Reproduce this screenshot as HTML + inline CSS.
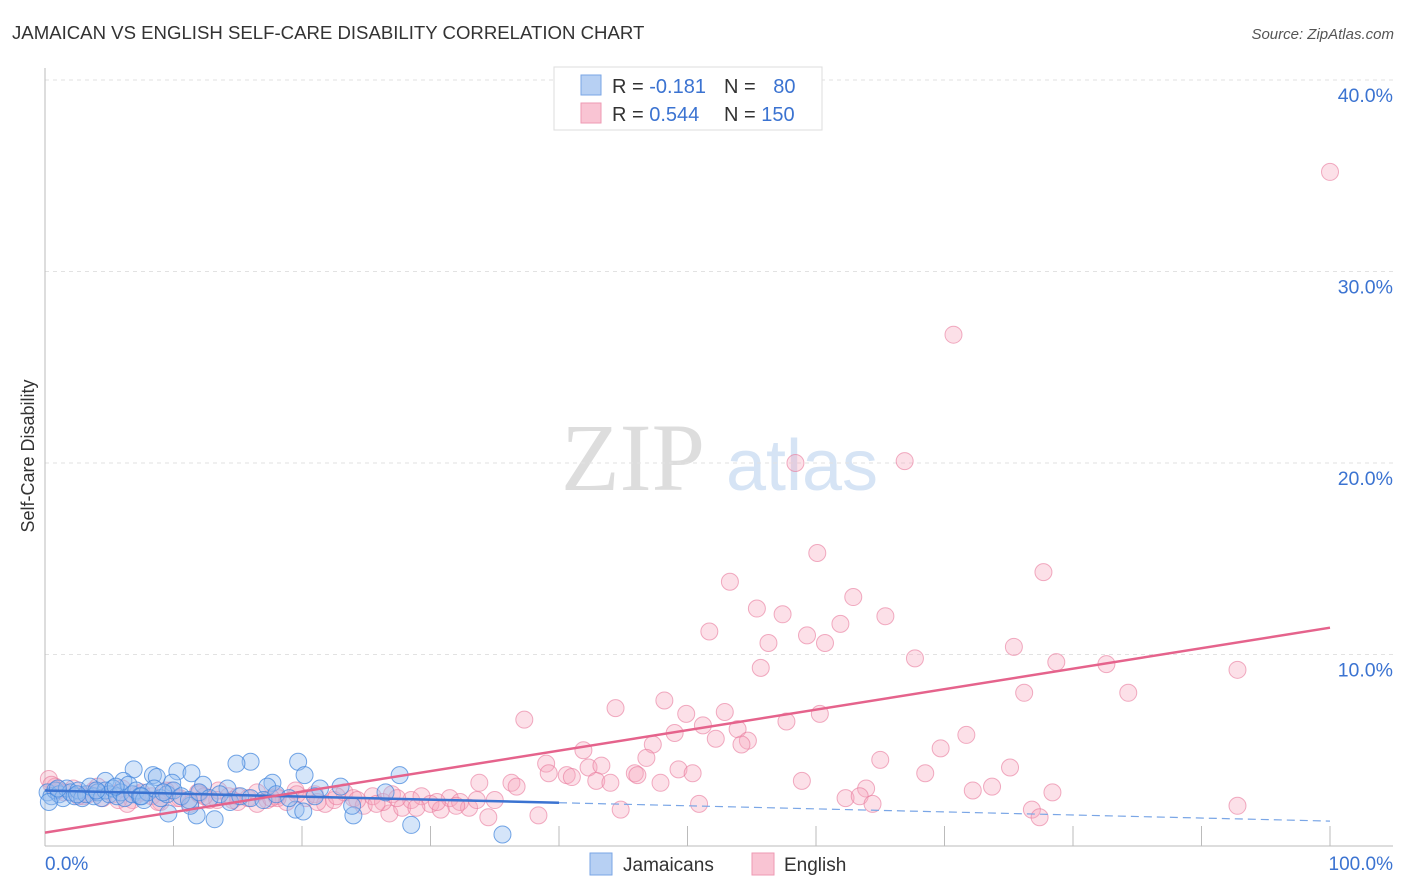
<!DOCTYPE html>
<html><head><meta charset="utf-8"><style>
body{margin:0;background:#fff;font-family:"Liberation Sans",sans-serif;}
#wrap{position:relative;width:1406px;height:892px;overflow:hidden}
</style></head><body>
<div id="wrap">
<svg id="svg" width="1406" height="892" xmlns="http://www.w3.org/2000/svg">
<text x="12" y="39" font-size="18.6" fill="#333">JAMAICAN VS ENGLISH SELF-CARE DISABILITY CORRELATION CHART</text>
<text x="1394" y="39" font-size="15" fill="#555" font-style="italic" text-anchor="end">Source: ZipAtlas.com</text>
<text x="633" y="490" font-size="96" fill="#ddd" font-family="Liberation Serif,serif" text-anchor="middle">ZIP</text>
<text x="802" y="490" font-size="72" fill="#d6e4f5" text-anchor="middle">atlas</text>
<text transform="translate(34,456) rotate(-90)" font-size="18" fill="#333" text-anchor="middle">Self-Care Disability</text>
<g id="grid"></g><g id="pts"></g><g id="lines"></g>
<g>
<rect x="554" y="67" width="268" height="63" fill="#fff" stroke="#ddd"/>
<rect x="581" y="75" width="20" height="20" fill="#b7d0f3" stroke="#7aa6e6"/>
<rect x="581" y="103" width="20" height="20" fill="#f9c4d3" stroke="#ee9ab3"/>
<text x="612" y="93" font-size="20" fill="#333">R = <tspan fill="#3b73d1">-0.181</tspan></text>
<text x="724" y="93" font-size="20" fill="#333">N = <tspan fill="#3b73d1" dx="12">80</tspan></text>
<text x="612" y="121" font-size="20" fill="#333">R = <tspan fill="#3b73d1">0.544</tspan></text>
<text x="724" y="121" font-size="20" fill="#333">N = <tspan fill="#3b73d1">150</tspan></text>
</g>
<g>
<rect x="590" y="853" width="22" height="22" fill="#b7d0f3" stroke="#7aa6e6"/>
<text x="623" y="871" font-size="19" fill="#333">Jamaicans</text>
<rect x="752" y="853" width="22" height="22" fill="#f9c4d3" stroke="#ee9ab3"/>
<text x="784" y="871" font-size="19" fill="#333">English</text>
</g>
</svg>
</div>
<script>
const yTicks=[10,20,30,40];
const yTickLabels=["10.0%","20.0%","30.0%","40.0%"];
const xTickLabels=["0.0%","100.0%"];
const englishX=[100,70.7,58.4,66.9,60.1,77.7,53.3,62.9,55.4,57.4,65.4,61.9,51.7,59.3,56.3,60.7,75.4,67.7,78.7,82.6,92.8,55.7,76.2,84.3,48.2,37.3,44.4,49.9,52.9,60.3,51.2,57.7,53.9,52.2,49.0,71.7,54.7,54.2,47.3,65.0,69.7,41.9,46.8,39.0,42.3,43.3,75.1,68.5,49.3,50.4,45.9,46.1,40.6,41.0,39.2,36.3,33.8,36.7,42.9,44.0,47.9,58.9,63.9,73.7,72.2,78.4,62.3,63.4,50.9,64.4,76.8,77.4,92.8,44.8,34.5,38.4,26.8,
0.3,0.8,1.5,2.2,3.0,3.8,4.5,5.3,6.0,6.8,7.5,8.3,9.0,9.8,10.5,11.3,12.0,12.8,13.5,14.3,15.0,15.8,16.5,17.3,18.0,18.8,19.5,20.3,21.0,21.8,22.5,23.3,24.0,24.8,25.5,26.3,27.0,27.8,28.5,29.3,30.0,30.8,31.5,32.3,33.0,35.0,1.0,2.6,4.1,5.7,7.2,8.8,10.3,11.9,13.4,15.0,16.5,18.1,19.6,21.2,22.7,24.3,25.8,27.4,28.9,30.5,32.0,33.6,0.5,3.4,6.4,9.4,12.4,14.6,17.6];
const englishY=[35.2,26.7,20.0,20.1,15.3,14.3,13.8,13.0,12.4,12.1,12.0,11.6,11.2,11.0,10.6,10.6,10.4,9.8,9.6,9.5,9.2,9.3,8.0,8.0,7.6,6.6,7.2,6.9,7.0,6.9,6.3,6.5,6.1,5.6,5.9,5.8,5.5,5.3,5.3,4.5,5.1,5.0,4.6,4.3,4.1,4.2,4.1,3.8,4.0,3.8,3.8,3.7,3.7,3.6,3.8,3.3,3.3,3.1,3.4,3.3,3.3,3.4,3.0,3.1,2.9,2.8,2.5,2.6,2.2,2.2,1.9,1.5,2.1,1.9,1.5,1.6,1.7,
3.5,3.1,2.8,3.0,2.6,2.9,2.5,2.7,3.0,2.4,2.8,2.6,2.3,2.9,2.5,2.2,2.7,2.4,2.9,2.6,2.3,2.5,2.8,2.4,2.6,2.3,2.9,2.5,2.7,2.2,2.4,2.8,2.5,2.1,2.6,2.3,2.7,2.0,2.4,2.6,2.2,1.9,2.5,2.3,2.0,2.4,2.9,2.6,3.1,2.4,2.7,2.3,2.5,2.8,2.4,2.6,2.2,2.5,2.7,2.3,2.6,2.4,2.2,2.5,2.0,2.3,2.1,2.4,3.2,2.7,2.2,2.9,2.6,2.4,2.5];
const jamX=[16.0,14.9,19.7,6.9,10.3,11.4,20.2,27.6,8.4,8.7,4.7,6.1,9.9,12.3,17.7,17.3,14.2,21.4,23.0,26.5,9.6,11.8,13.2,19.5,20.1,24.0,28.5,35.6,23.9,11.3,
0.2,0.5,0.8,1.1,1.4,1.7,2.0,2.3,2.6,2.9,3.2,3.5,3.8,4.1,4.4,4.7,5.0,5.3,5.6,5.9,6.2,6.5,6.8,7.1,7.4,7.7,8.0,8.5,9.0,9.5,10.0,10.6,11.2,12.0,12.8,13.6,14.4,15.2,16.0,17.0,18.0,19.0,21.0,0.3,1.0,2.5,4.0,5.5,7.5,9.2];
const jamY=[4.4,4.3,4.4,4.0,3.9,3.8,3.7,3.7,3.7,3.6,3.4,3.4,3.3,3.2,3.3,3.1,3.0,3.0,3.1,2.8,1.7,1.6,1.4,1.9,1.8,1.6,1.1,0.6,2.1,2.1,
2.8,2.6,2.9,2.7,2.5,3.0,2.8,2.6,2.9,2.5,2.7,3.1,2.6,2.8,2.5,2.9,2.7,3.0,2.6,2.8,2.5,3.2,2.7,2.9,2.6,2.4,2.8,3.0,2.5,2.7,2.9,2.6,2.4,2.8,2.5,2.7,2.3,2.6,2.5,2.4,2.7,2.5,2.6,2.3,3.0,2.7,2.9,3.1,2.6,2.8];
const engLine=[0.7,11.4], jamLine=[2.9,1.3];
const X=v=>45+v*12.85, Y=v=>846-v*19.15;
const NS="http://www.w3.org/2000/svg";
function mk(t,a,p){const e=document.createElementNS(NS,t);for(const k in a)e.setAttribute(k,a[k]);p.appendChild(e);return e;}
const grid=document.getElementById('grid'),pts=document.getElementById('pts'),lines=document.getElementById('lines');
yTicks.forEach((t,i)=>{
 const l=mk('line',{x1:45,x2:1393,y1:Y(t),y2:Y(t),stroke:'#e2e2e2','stroke-dasharray':'4,4'},grid);
 
 
 const tx=mk('text',{x:1393,y:Y(t)+22,'font-size':19.5,fill:'#3b73d1','text-anchor':'end'},grid);
 tx.textContent=yTickLabels[i];
 
 
});
let ax=mk('line',{x1:45,x2:45,y1:68,y2:846,stroke:'#bbb'},grid);


ax=mk('line',{x1:45,x2:1393,y1:846,y2:846,stroke:'#bbb'},grid);


for(let i=1;i<=10;i++){const t=mk('line',{x1:X(i*10),x2:X(i*10),y1:826,y2:846,stroke:'#bbb'},grid);
 
 }
[[0,'start',45],[100,'end',1393]].forEach((d,i)=>{const t=mk('text',{x:d[2],y:870,'font-size':19,fill:'#3b73d1','text-anchor':d[1]},grid);t.textContent=xTickLabels[i];
 
 });
englishX.forEach((x,i)=>{const c=mk('circle',{cx:X(x),cy:Y(englishY[i]),r:8.5,fill:'rgba(246,166,190,0.35)',stroke:'rgba(232,120,155,0.6)','stroke-width':1},pts);
 
 });
jamX.forEach((x,i)=>{const c=mk('circle',{cx:X(x),cy:Y(jamY[i]),r:8.5,fill:'rgba(150,190,240,0.4)',stroke:'rgba(60,130,220,0.7)','stroke-width':1},pts);
 
 });
const jy=x=>jamLine[0]+(jamLine[1]-jamLine[0])*x/100;
let l=mk('line',{x1:X(0),y1:Y(jy(0)),x2:X(40),y2:Y(jy(40)),stroke:'#3b73d1','stroke-width':2.5},lines);


l=mk('line',{x1:X(40),y1:Y(jy(40)),x2:X(100),y2:Y(jy(100)),stroke:'#7aa6e6','stroke-width':1.2,'stroke-dasharray':'8,5'},lines);


l=mk('line',{x1:X(0),y1:Y(engLine[0]),x2:X(100),y2:Y(engLine[1]),stroke:'#e5638c','stroke-width':2.5},lines);


</script>
</body></html>
